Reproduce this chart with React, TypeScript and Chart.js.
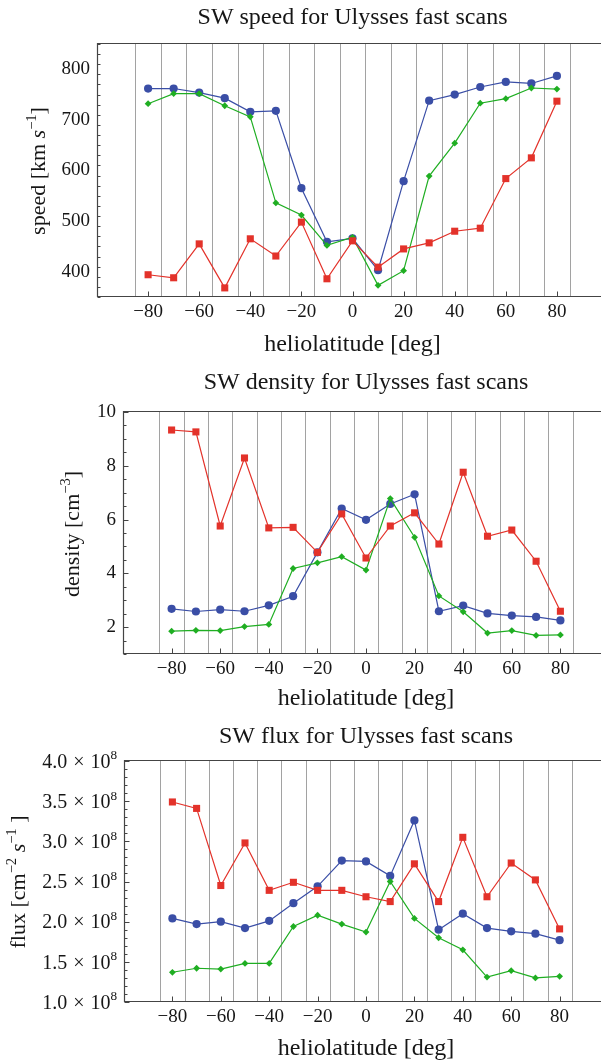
import React, { useEffect, useRef } from 'react';
import { Chart, registerables } from 'chart.js';
Chart.register(...registerables);

// ---------- data ----------
const latitudes = [-80, -70, -60, -50, -40, -30, -20, -10, 0, 10, 20, 30, 40, 50, 60, 70, 80];
const binEdges = [-85, -75, -65, -55, -45, -35, -25, -15, -5, 5, 15, 25, 35, 45, 55, 65, 75, 85];
const xTickValues = [-80, -60, -40, -20, 0, 20, 40, 60, 80];

const speedBlue = [762, 762, 754, 743, 716, 718, 565, 459, 466, 403, 579, 738, 750, 765, 775, 772, 787];
const speedGreen = [732, 752, 752, 728, 706, 536, 512, 452, 468, 373, 402, 589, 654, 733, 742, 763, 761];
const speedRed = [394, 388, 455, 368, 465, 431, 498, 386, 461, 409, 445, 457, 480, 486, 584, 625, 737];
const speedTicks = [400, 500, 600, 700, 800];

const densityRed = [9.33, 9.26, 5.76, 8.29, 5.69, 5.71, 4.78, 6.21, 4.57, 5.76, 6.25, 5.09, 7.76, 5.38, 5.61, 4.45, 2.59];
const densityBlue = [2.68, 2.58, 2.65, 2.59, 2.81, 3.15, 4.78, 6.41, 5.99, 6.58, 6.94, 2.59, 2.8, 2.51, 2.43, 2.38, 2.25];
const densityGreen = [1.85, 1.88, 1.87, 2.02, 2.1, 4.18, 4.39, 4.62, 4.12, 6.78, 5.34, 3.16, 2.57, 1.78, 1.87, 1.69, 1.71];
const densityTicks = [2, 4, 6, 8, 10];

const fluxRed = [3.49e8, 3.41e8, 2.45e8, 2.98e8, 2.39e8, 2.49e8, 2.39e8, 2.39e8, 2.31e8, 2.25e8, 2.72e8, 2.25e8, 3.05e8, 2.31e8, 2.73e8, 2.52e8, 1.91e8];
const fluxBlue = [2.04e8, 1.97e8, 2.0e8, 1.92e8, 2.01e8, 2.23e8, 2.44e8, 2.76e8, 2.75e8, 2.57e8, 3.26e8, 1.9e8, 2.1e8, 1.92e8, 1.88e8, 1.85e8, 1.77e8];
const fluxGreen = [1.37e8, 1.42e8, 1.41e8, 1.48e8, 1.48e8, 1.94e8, 2.08e8, 1.97e8, 1.87e8, 2.5e8, 2.04e8, 1.8e8, 1.65e8, 1.31e8, 1.39e8, 1.3e8, 1.32e8];
const fluxTicks = [1.0e8, 1.5e8, 2.0e8, 2.5e8, 3.0e8, 3.5e8, 4.0e8];

// ---------- styles ----------
const FONT = '"Liberation Serif", "Times New Roman", serif';
const BLUE = '#3a4ea6';
const GREEN = '#1fae22';
const RED = '#e3322a';
const TEXT = '#161616';
const FRAME = '#444444';
const GRIDC = '#a2a2a2';
const CANVAS_W = 620;

type Seg = { t: string; it?: boolean; sup?: boolean; gap?: number };

function segFont(s: Seg, size: number) {
  const sz = s.sup ? size * 0.66 : size;
  return `${s.it ? 'italic ' : ''}${sz}px ${FONT}`;
}
function segWidth(ctx: CanvasRenderingContext2D, s: Seg, size: number) {
  if (s.gap !== undefined) return s.gap;
  ctx.font = segFont(s, size);
  return ctx.measureText(s.t).width;
}
function richWidth(ctx: CanvasRenderingContext2D, segs: Seg[], size: number) {
  let w = 0;
  for (const s of segs) w += segWidth(ctx, s, size);
  return w;
}
function drawRich(ctx: CanvasRenderingContext2D, segs: Seg[], x: number, baseline: number, size: number) {
  let cx = x;
  ctx.textAlign = 'left';
  ctx.textBaseline = 'alphabetic';
  for (const s of segs) {
    const w = segWidth(ctx, s, size);
    if (s.gap === undefined) {
      ctx.font = segFont(s, size);
      ctx.fillText(s.t, cx, s.sup ? baseline - size * 0.42 : baseline);
    }
    cx += w;
  }
}

interface Spec {
  canvasTop: number;
  height: number;
  left: number;
  top: number;
  bottom: number;
  right: number;
  yMin: number;
  yMax: number;
  yMajor: number[];
  yMinorStep: number;
  title: string;
  titleY: number;
  yTitle: Seg[];
  yTitleX: number;
  yTitleY: number;
  xTitleOffset: number;
  blue: number[];
  green: number[];
  red: number[];
  sciLabels?: boolean;
}

const specs: Spec[] = [
  {
    canvasTop: 0, height: 365, left: 97, top: 44, bottom: 297, right: 608,
    yMin: 350, yMax: 850, yMajor: speedTicks, yMinorStep: 20,
    title: 'SW speed for Ulysses fast scans', titleY: 16,
    yTitle: [{ t: 'speed [km ' }, { t: 's', it: true }, { t: '−1', sup: true }, { t: ']' }],
    yTitleX: 38, yTitleY: 171, xTitleOffset: 47,
    blue: speedBlue, green: speedGreen, red: speedRed,
  },
  {
    canvasTop: 365, height: 350, left: 123, top: 412, bottom: 654, right: 609,
    yMin: 1, yMax: 10, yMajor: densityTicks, yMinorStep: 0.5,
    title: 'SW density for Ulysses fast scans', titleY: 381,
    yTitle: [{ t: 'density [cm' }, { t: '−3', sup: true }, { t: ']' }],
    yTitleX: 72, yTitleY: 534, xTitleOffset: 44,
    blue: densityBlue, green: densityGreen, red: densityRed,
  },
  {
    canvasTop: 715, height: 348, left: 124, top: 761, bottom: 1002, right: 608,
    yMin: 1e8, yMax: 4e8, yMajor: fluxTicks, yMinorStep: 0.1e8,
    title: 'SW flux for Ulysses fast scans', titleY: 735,
    yTitle: [{ t: 'flux [cm' }, { t: '−2', sup: true }, { t: ' ' }, { t: 's', it: true }, { t: '−1', sup: true }, { t: ' ]' }],
    yTitleX: 18, yTitleY: 882, xTitleOffset: 46,
    blue: fluxBlue, green: fluxGreen, red: fluxRed, sciLabels: true,
  },
];

const TICK_SIZE = 19;
const SCI_SIZE = 20;
const TITLE_SIZE = 24;
const X_TITLE_SIZE = 24;
const Y_TITLE_SIZE = 22;

function makeChart(canvas: HTMLCanvasElement, spec: Spec) {
  const ct = spec.canvasTop;
  const top = spec.top - ct;
  const bottom = spec.bottom - ct;

  const decor = {
    id: 'decor',
    beforeDatasetsDraw(chart: any) {
      const ctx: CanvasRenderingContext2D = chart.ctx;
      const a = chart.chartArea;
      const xs = chart.scales.x;
      const ys = chart.scales.y;
      ctx.save();
      ctx.strokeStyle = GRIDC;
      ctx.lineWidth = 1;
      for (const v of binEdges) {
        const px = Math.round(xs.getPixelForValue(v)) + 0.5;
        ctx.beginPath();
        ctx.moveTo(px, a.top);
        ctx.lineTo(px, a.bottom);
        ctx.stroke();
      }
      ctx.strokeStyle = FRAME;
      ctx.lineWidth = 1.2;
      const L = Math.round(a.left) + 0.5;
      const T = Math.round(a.top) - 0.5;
      const B = Math.round(a.bottom) - 0.5;
      const R = Math.round(a.right) + 0.5;
      ctx.beginPath();
      ctx.moveTo(R, T);
      ctx.lineTo(L, T);
      ctx.lineTo(L, B);
      ctx.lineTo(R, B);
      ctx.lineTo(R, T);
      ctx.stroke();
      ctx.lineWidth = 1;
      for (let v = spec.yMin; v <= spec.yMax + 1e-9 * spec.yMax; v += spec.yMinorStep) {
        const isMajor = spec.yMajor.some((m) => Math.abs(m - v) < spec.yMinorStep * 0.01);
        const py = Math.round(ys.getPixelForValue(v)) + 0.5;
        ctx.beginPath();
        ctx.moveTo(L, py);
        ctx.lineTo(L + (isMajor ? 5 : 3), py);
        ctx.stroke();
      }
      for (const v of xTickValues) {
        const px = Math.round(xs.getPixelForValue(v)) + 0.5;
        ctx.beginPath();
        ctx.moveTo(px, B);
        ctx.lineTo(px, B - 5);
        ctx.stroke();
      }
      ctx.restore();
    },
    afterDraw(chart: any) {
      const ctx: CanvasRenderingContext2D = chart.ctx;
      const a = chart.chartArea;
      const ys = chart.scales.y;
      ctx.save();
      ctx.fillStyle = TEXT;
      const cx = (a.left + a.right) / 2;
      const tSeg: Seg[] = [{ t: spec.title }];
      const tw = richWidth(ctx, tSeg, TITLE_SIZE);
      drawRich(ctx, tSeg, cx - tw / 2, spec.titleY - ct + TITLE_SIZE * 0.33, TITLE_SIZE);
      const xSeg: Seg[] = [{ t: 'heliolatitude [deg]' }];
      const xw = richWidth(ctx, xSeg, X_TITLE_SIZE);
      drawRich(ctx, xSeg, cx - xw / 2, a.bottom + spec.xTitleOffset + X_TITLE_SIZE * 0.3, X_TITLE_SIZE);
      const yw = richWidth(ctx, spec.yTitle, Y_TITLE_SIZE);
      ctx.save();
      ctx.translate(spec.yTitleX, spec.yTitleY - ct);
      ctx.rotate(-Math.PI / 2);
      drawRich(ctx, spec.yTitle, -yw / 2, Y_TITLE_SIZE * 0.32, Y_TITLE_SIZE);
      ctx.restore();
      if (spec.sciLabels) {
        for (const v of spec.yMajor) {
          const py = ys.getPixelForValue(v);
          const segs: Seg[] = [
            { t: (v / 1e8).toFixed(1) },
            { t: '', gap: 6 },
            { t: '×' },
            { t: '', gap: 6 },
            { t: '10' },
            { t: '8', sup: true },
          ];
          const w = richWidth(ctx, segs, SCI_SIZE);
          drawRich(ctx, segs, a.left - 7 - w, py + SCI_SIZE * 0.34, SCI_SIZE);
        }
      }
      ctx.restore();
    },
  };

  const mk = (vals: number[]) => latitudes.map((x, i) => ({ x, y: vals[i] }));

  return new Chart(canvas, {
    type: 'line',
    data: {
      datasets: [
        {
          data: mk(spec.red), borderColor: RED, backgroundColor: RED, pointBackgroundColor: RED,
          pointStyle: 'rect', pointRadius: 5, pointBorderWidth: 0, borderWidth: 1.2, order: 1,
        },
        {
          data: mk(spec.green), borderColor: GREEN, backgroundColor: GREEN, pointBackgroundColor: GREEN,
          pointStyle: 'rectRot', pointRadius: 3.4, pointBorderWidth: 0, borderWidth: 1.2, order: 2,
        },
        {
          data: mk(spec.blue), borderColor: BLUE, backgroundColor: BLUE, pointBackgroundColor: BLUE,
          pointStyle: 'circle', pointRadius: 4.1, pointBorderWidth: 0, borderWidth: 1.2, order: 3,
        },
      ] as any,
    },
    options: {
      responsive: false,
      animation: false,
      events: [],
      layout: { padding: { left: 0, right: CANVAS_W - spec.right, top: top, bottom: 0 } },
      plugins: { legend: { display: false }, tooltip: { enabled: false }, title: { display: false } },
      scales: {
        x: {
          type: 'linear',
          min: -100,
          max: 100,
          grid: { display: false, drawTicks: false },
          border: { display: false },
          afterBuildTicks: (ax: any) => {
            ax.ticks = xTickValues.map((v) => ({ value: v }));
          },
          afterFit: (ax: any) => {
            ax.height = spec.height - bottom;
          },
          ticks: {
            autoSkip: false,
            maxRotation: 0,
            padding: 4,
            color: TEXT,
            font: { family: FONT, size: TICK_SIZE },
            callback: (v: any) => (Number(v) < 0 ? '−' + Math.abs(Number(v)) : String(v)),
          },
        },
        y: {
          type: 'linear',
          min: spec.yMin,
          max: spec.yMax,
          grid: { display: false, drawTicks: false },
          border: { display: false },
          afterBuildTicks: (ax: any) => {
            ax.ticks = spec.yMajor.map((v) => ({ value: v }));
          },
          afterFit: (ax: any) => {
            ax.width = spec.left;
          },
          ticks: {
            display: !spec.sciLabels,
            padding: 7,
            color: TEXT,
            font: { family: FONT, size: TICK_SIZE },
            callback: (v: any) => String(v),
          },
        },
      },
    } as any,
    plugins: [decor],
  });
}

function Panel({ spec }: { spec: Spec }) {
  const ref = useRef<HTMLCanvasElement>(null);
  useEffect(() => {
    if (!ref.current) return;
    const chart = makeChart(ref.current, spec);
    return () => chart.destroy();
  }, [spec]);
  return (
    <canvas
      ref={ref}
      width={CANVAS_W}
      height={spec.height}
      style={{ position: 'absolute', left: 0, top: spec.canvasTop, width: CANVAS_W, height: spec.height, display: 'block' }}
    />
  );
}

export default function App() {
  return (
    <div
      style={{
        position: 'absolute', left: 0, top: 0, width: 601, height: 1063,
        overflow: 'hidden', background: '#ffffff',
      }}
    >
      {specs.map((s, i) => (
        <Panel key={i} spec={s} />
      ))}
    </div>
  );
}
